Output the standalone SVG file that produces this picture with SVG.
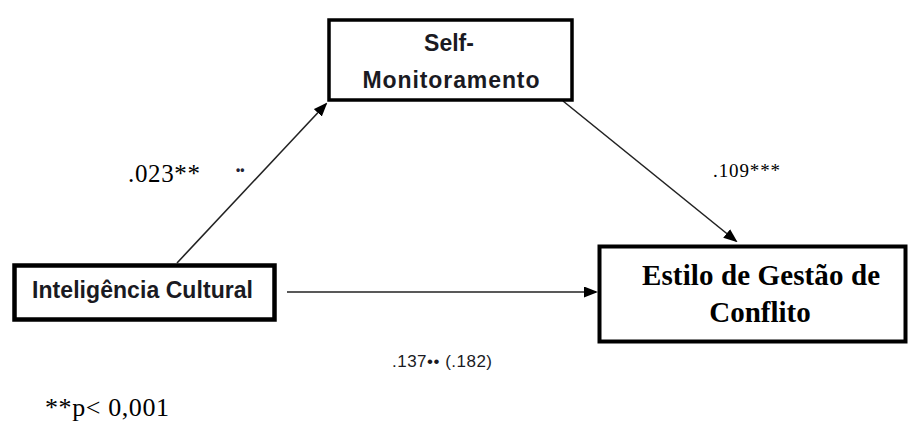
<svg xmlns="http://www.w3.org/2000/svg" width="912" height="427" viewBox="0 0 912 427">
<style>
.box{fill:#fff;stroke:#000;}
.sans{font-family:"Liberation Sans",Arial,sans-serif;font-weight:bold;fill:#1a1a22;}
.serif{font-family:"Liberation Serif","Times New Roman",serif;fill:#000;}
.conn{stroke:#222;stroke-width:1.6;fill:none;marker-end:url(#ah);}
</style>
<defs>
<marker id="ah" markerWidth="14" markerHeight="11" refX="12" refY="5.5" orient="auto" markerUnits="userSpaceOnUse">
<path d="M0,0 L14,5.5 L0,11 Z" fill="#000"/>
</marker>
</defs>
<rect width="912" height="427" fill="#fff"/>
<g id="connectors">
<line class="conn" x1="177" y1="263" x2="326" y2="104"/>
<line class="conn" x1="563" y1="101" x2="736" y2="241"/>
<line class="conn" x1="287" y1="292" x2="596" y2="292"/>
</g>
<g id="self-monitoramento">
<rect class="box" x="329" y="20" width="243" height="80" stroke-width="3.5"/>
<text class="sans" x="449" y="51" font-size="23" text-anchor="middle">Self-</text>
<text class="sans" x="451" y="88" font-size="23" text-anchor="middle" textLength="177">Monitoramento</text>
</g>
<g id="inteligencia-cultural">
<rect class="box" x="14.5" y="265.5" width="260" height="54" stroke-width="4.5"/>
<text class="sans" x="142.5" y="298" font-size="23" text-anchor="middle" textLength="221">Inteligência Cultural</text>
</g>
<g id="estilo-gestao">
<rect class="box" x="599.5" y="246.5" width="306" height="95" stroke-width="4"/>
<text class="serif" x="761" y="285" font-size="29" font-weight="bold" text-anchor="middle" textLength="238">Estilo de Gestão de</text>
<text class="serif" x="760" y="322" font-size="29" font-weight="bold" text-anchor="middle">Conflito</text>
</g>
<g id="labels">
<text class="serif" x="128" y="182" font-size="25" textLength="72">.023**</text>
<text x="236" y="174" font-size="12" font-weight="bold" fill="#223" font-family="Liberation Sans, Arial, sans-serif">••</text>
<text class="serif" x="713" y="177" font-size="19" textLength="67">.109***</text>
<text x="392" y="367" font-size="17" fill="#1a1a22" font-family="Liberation Sans, Arial, sans-serif" textLength="100">.137•• (.182)</text>
<text class="serif" x="45" y="416" font-size="26" textLength="124">**p&lt; 0,001</text>
</g>
</svg>
